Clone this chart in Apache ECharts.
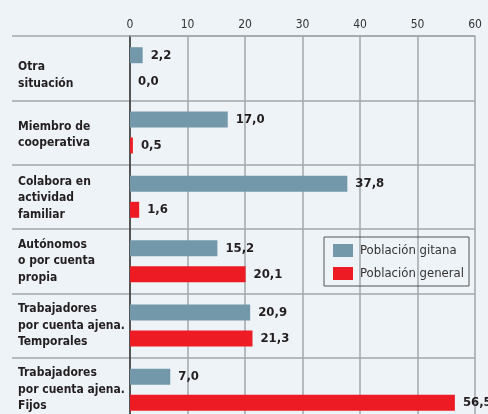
<!DOCTYPE html>
<html><head><meta charset="utf-8">
<script src="https://cdn.jsdelivr.net/npm/echarts@6/dist/echarts.min.js"></script>
<style>html,body{margin:0;padding:0;background:#eef3f7;}#c{width:488px;height:414px;}</style>
</head><body><div id="c"></div>
<script>
const categories = [
  'Otra\nsituación',
  'Miembro de\ncooperativa',
  'Colabora en\nactividad\nfamiliar',
  'Autónomos\no por cuenta\npropia',
  'Trabajadores\npor cuenta ajena.\nTemporales',
  'Trabajadores\npor cuenta ajena.\nFijos'
];
const seriesNames = ['Población gitana', 'Población general'];
const gitana = [2.2, 17.0, 37.8, 15.2, 20.9, 7.0];
const general = [0.0, 0.5, 1.6, 20.1, 21.3, 56.5];
const xTicks = [0, 10, 20, 30, 40, 50, 60];

const FONT = '"DejaVu Sans Condensed", "DejaVu Sans", sans-serif';
const chart = echarts.init(document.getElementById('c'), null, {renderer: 'canvas'});
const fmt = p => p.value.toFixed(1).replace('.', ',');
const lbl = {show: true, position: 'right', distance: 8, formatter: fmt, padding: [5, 0, 0, 0],
  fontFamily: FONT, fontWeight: 'bold', fontSize: 13, color: '#231f20'};

// extra leading space (px) above each category label, to nudge it like the original
const lead = [14, 5, 3, 0, 0, 0];
const catRich = {
  s: {fontFamily: FONT, fontWeight: 'bold', fontSize: 12, lineHeight: 16.5, color: '#231f20', align: 'left'}
};
lead.forEach(h => { if (h) catRich['g' + h] = {fontSize: 1, lineHeight: h, align: 'left'}; });
const catFormatter = (v, i) => {
  const lines = v.split('\n').map(t => '{s|' + t + '}');
  if (lead[i]) lines.unshift('{g' + lead[i] + '| }');
  return lines.join('\n');
};

chart.setOption({
  backgroundColor: '#eef3f7',
  animation: false,
  grid: [
    {left: 130, right: 13, top: 36, height: 386, containLabel: false, outerBoundsMode: 'none'},
    {left: 12, right: 13, top: 36, height: 386, containLabel: false, outerBoundsMode: 'none'}
  ],
  xAxis: [
    {gridIndex: 0, type: 'value', position: 'top', min: xTicks[0], max: xTicks[xTicks.length - 1], interval: 10,
      axisLine: {show: true, lineStyle: {color: '#a2a7ab', width: 1.5}},
      axisTick: {show: false},
      splitLine: {show: true, lineStyle: {color: '#a2a7ab', width: 1.5}},
      axisLabel: {margin: 5, fontFamily: FONT, fontSize: 12, color: '#333'}},
    {gridIndex: 1, type: 'value', show: false, min: 0, max: 1}
  ],
  yAxis: [
    {gridIndex: 0, type: 'category', inverse: true, data: categories,
      axisLine: {show: true, lineStyle: {color: '#333', width: 1.5}},
      axisTick: {show: false},
      axisLabel: {margin: 112, align: 'left', formatter: catFormatter, rich: catRich,
        fontFamily: FONT, fontWeight: 'bold', fontSize: 12, lineHeight: 16.5, color: '#231f20'}},
    {gridIndex: 1, type: 'category', inverse: true, data: categories,
      axisLine: {show: false}, axisTick: {show: false}, axisLabel: {show: false},
      splitLine: {show: true, lineStyle: {color: '#a2a7ab', width: 1.5}}}
  ],
  legend: {
    orient: 'vertical', left: 324, top: 237,
    data: seriesNames,
    borderColor: '#555', borderWidth: 1, borderRadius: 0,
    padding: [7, 5, 6, 9], itemGap: 10, itemWidth: 20, itemHeight: 13,
    textStyle: {fontFamily: FONT, fontSize: 13, color: '#333', padding: [0, 0, 0, 2]},
    icon: 'rect'
  },
  series: [
    {name: seriesNames[0], type: 'bar', xAxisIndex: 0, yAxisIndex: 0, data: gitana,
      barWidth: 16, barGap: '62%', itemStyle: {color: '#7298aa'}, label: lbl},
    {name: seriesNames[1], type: 'bar', xAxisIndex: 0, yAxisIndex: 0, data: general,
      barWidth: 16, barGap: '62%', itemStyle: {color: '#ed1c24'}, label: lbl},
    {type: 'bar', xAxisIndex: 1, yAxisIndex: 1, data: [], silent: true}
  ]
});
</script></body></html>
